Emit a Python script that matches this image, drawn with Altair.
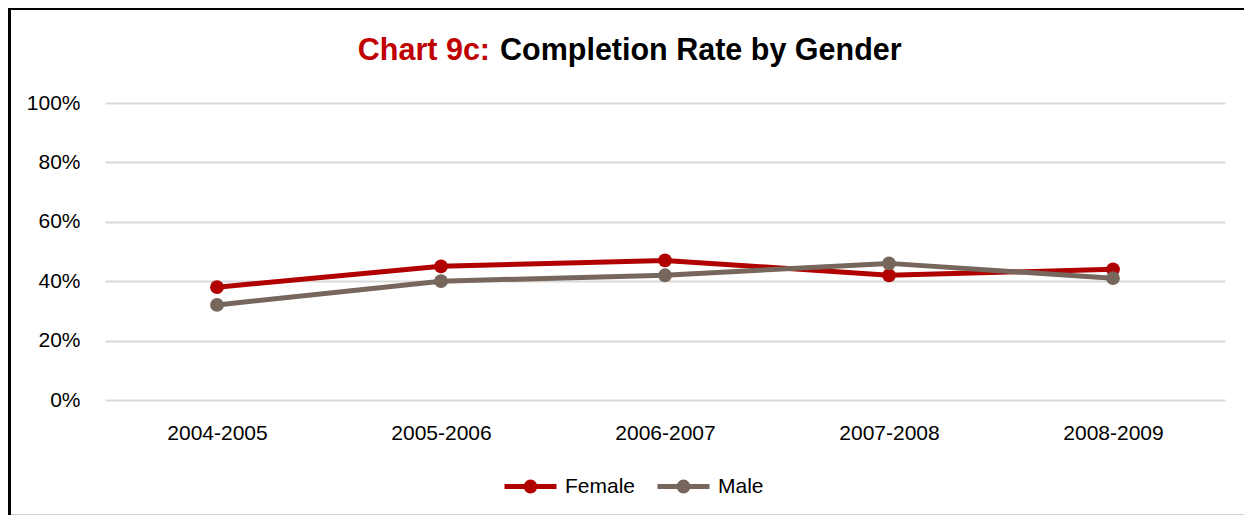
import altair as alt
import pandas as pd

years = ["2004-2005", "2005-2006", "2006-2007", "2007-2008", "2008-2009"]
female = [0.38, 0.45, 0.47, 0.42, 0.44]
male = [0.32, 0.40, 0.42, 0.46, 0.41]
series = ["Female", "Male"]
colors = ["#B00000", "#76665C"]
y_ticks = [0, 0.2, 0.4, 0.6, 0.8, 1.0]

rows = []
for s, vals in zip(series, [female, male]):
    for yr, v in zip(years, vals):
        rows.append({"Year": yr, "Rate": v, "Gender": s})
df = pd.DataFrame(rows)

FONT = "Liberation Sans"
W, H = 1120, 297

sym = "M-1,0H1M-0.17,0A0.17,0.17,0,1,0,0.17,0A0.17,0.17,0,1,0,-0.17,0Z"

x_enc = alt.X("Year:N", sort=years, scale=alt.Scale(type="point", padding=0.5),
              axis=alt.Axis(title=None, labelAngle=0, ticks=False, domain=False, grid=False,
                            labelPadding=22, labelFontSize=21, labelFont=FONT, labelColor="#000"))
y_enc = alt.Y("Rate:Q", scale=alt.Scale(domain=[0, 1]),
              axis=alt.Axis(title=None, values=y_ticks, format=".0%", ticks=False, domain=False,
                            gridColor="#D9D9D9", gridWidth=2, labelPadding=25,
                            labelFontSize=21, labelFont=FONT, labelColor="#000"))

legend = alt.Legend(title=None, orient="none", legendX=397, legendY=355, direction="horizontal",
                    symbolType=sym, symbolSize=2704, symbolStrokeWidth=5,
                    labelFont=FONT, labelFontSize=21, labelColor="#000", labelOffset=6,
                    columnPadding=11)

base = alt.Chart(df)
lines = base.mark_line(strokeWidth=5).encode(
    x=x_enc, y=y_enc,
    stroke=alt.Stroke("Gender:N", scale=alt.Scale(domain=series, range=colors), legend=legend),
)
points = base.mark_point(filled=True, size=190, opacity=1).encode(
    x=x_enc, y=y_enc,
    fill=alt.Fill("Gender:N", scale=alt.Scale(domain=series, range=colors), legend=legend),
)

title_df = pd.DataFrame({"a": [1]})
t1 = alt.Chart(title_df).mark_text(text="Chart 9c:", font=FONT, fontSize=30.5, fontWeight="bold",
                                   color="#C00000", align="right", baseline="alphabetic").encode(
    x=alt.value(385), y=alt.value(-43))
t2 = alt.Chart(title_df).mark_text(text="Completion Rate by Gender", font=FONT, fontSize=30.5,
                                   fontWeight="bold", color="#000000", align="left",
                                   baseline="alphabetic").encode(
    x=alt.value(395), y=alt.value(-43))

border_left = alt.Chart(title_df).mark_rule(color="#000", strokeWidth=4).encode(
    x=alt.value(-96), y=alt.value(-96), y2=alt.value(H + 120))
border_top = alt.Chart(title_df).mark_rule(color="#000", strokeWidth=3).encode(
    x=alt.value(-98), x2=alt.value(W + 40), y=alt.value(-94.5))
border_bottom = alt.Chart(title_df).mark_rule(color="#D0D0D0", strokeWidth=2).encode(
    x=alt.value(-94), x2=alt.value(W + 40), y=alt.value(H + 115))

chart = alt.layer(lines, points, t1, t2, border_left, border_top, border_bottom).properties(
    width=W, height=H,
    autosize=alt.AutoSizeParams(type="none"),
    padding={"left": 97, "top": 95, "right": 19, "bottom": 115},
    background="#FFFFFF",
).configure_view(stroke=None)

chart.save("out.html", embed_options={"renderer": "svg", "actions": False})
